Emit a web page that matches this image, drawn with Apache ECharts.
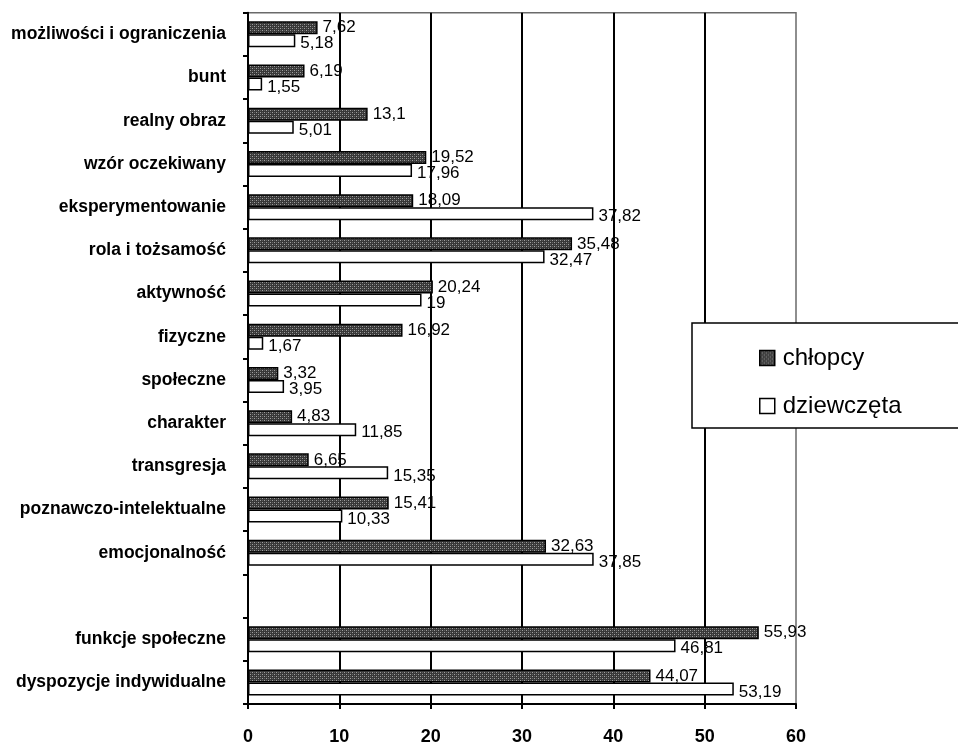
<!DOCTYPE html>
<html>
<head>
<meta charset="utf-8">
<script src="https://cdn.jsdelivr.net/npm/echarts@6/dist/echarts.min.js"></script>
<style>
  html, body { margin: 0; padding: 0; background: #fff; }
  #chart { width: 958px; height: 746px; }
</style>
</head>
<body>
<div id="chart"></div>
<script>
// Categories listed top to bottom; the empty entry leaves a gap row.
const categories = [
  'możliwości i ograniczenia',
  'bunt',
  'realny obraz',
  'wzór oczekiwany',
  'eksperymentowanie',
  'rola i tożsamość',
  'aktywność',
  'fizyczne',
  'społeczne',
  'charakter',
  'transgresja',
  'poznawczo-intelektualne',
  'emocjonalność',
  '',
  'funkcje społeczne',
  'dyspozycje indywidualne'
];
const seriesNames = ['chłopcy', 'dziewczęta'];
const boysValues = [7.62, 6.19, 13.1, 19.52, 18.09, 35.48, 20.24, 16.92, 3.32, 4.83, 6.65, 15.41, 32.63, null, 55.93, 44.07];
const girlsValues = [5.18, 1.55, 5.01, 17.96, 37.82, 32.47, 19, 1.67, 3.95, 11.85, 15.35, 10.33, 37.85, null, 46.81, 53.19];
const xTicks = { min: 0, max: 60, interval: 10 };

// Dotted dark-grey fill used for the boys' bars
function makeHatch() {
  const c = document.createElement('canvas');
  c.width = 4; c.height = 4;
  const g = c.getContext('2d');
  g.fillStyle = '#383838';
  g.fillRect(0, 0, 4, 4);
  g.fillStyle = '#a0a0a0';
  g.fillRect(0, 0, 1, 1);
  g.fillRect(2, 2, 1, 1);
  g.fillStyle = '#646464';
  g.fillRect(2, 0, 1, 1);
  g.fillRect(0, 2, 1, 1);
  return c;
}
const hatch = { image: makeHatch(), repeat: 'repeat' };

const fmt = p => (p.value == null ? '' : String(p.value).replace('.', ','));
const FONT = '"Liberation Sans", Arial, sans-serif';

const chart = echarts.init(document.getElementById('chart'), null, { renderer: 'canvas' });
chart.setOption({
  animation: false,
  backgroundColor: '#fff',
  textStyle: { fontFamily: FONT },
  grid: {
    left: 248, right: 162, top: 12.7, bottom: 39,
    show: true, borderColor: '#6a6a6a', borderWidth: 1.5, backgroundColor: 'transparent'
  },
  xAxis: {
    type: 'value',
    min: xTicks.min, max: xTicks.max, interval: xTicks.interval,
    axisLine: { show: true, lineStyle: { color: '#000', width: 2 } },
    axisTick: { show: true, length: 5, lineStyle: { color: '#000', width: 2 } },
    axisLabel: { margin: 24, color: '#000', fontWeight: 'bold', fontSize: 18, fontFamily: FONT },
    splitLine: { show: true, showMaxLine: false, lineStyle: { color: '#000', width: 2 } }
  },
  yAxis: {
    type: 'category',
    inverse: true,
    data: categories,
    axisLine: { show: true, lineStyle: { color: '#000', width: 2 } },
    axisTick: { show: true, length: 5, lineStyle: { color: '#000', width: 2 } },
    axisLabel: { margin: 22, color: '#000', fontWeight: 'bold', fontSize: 17.5, fontFamily: FONT },
    splitLine: { show: false }
  },
  legend: {
    data: seriesNames.map(n => ({ name: n, icon: 'rect' })),
    orient: 'vertical',
    left: 754, top: 341,
    itemWidth: 15, itemHeight: 15, itemGap: 24,
    z: 20,
    itemStyle: { borderColor: '#000', borderWidth: 1.5 },
    textStyle: { fontSize: 24, color: '#000', fontFamily: FONT, padding: [0, 0, 0, 3] }
  },
  graphic: [{
    type: 'rect', z: 10,
    shape: { x: 692, y: 323, width: 268, height: 105 },
    style: { fill: '#fff', stroke: '#000', lineWidth: 1.5 }
  }],
  series: [
    {
      name: seriesNames[0], type: 'bar', data: boysValues,
      barWidth: 13, barGap: '0%',
      itemStyle: { color: hatch, borderColor: '#000', borderWidth: 1.5 },
      label: { show: true, position: 'right', distance: 5, formatter: fmt,
               color: '#000', fontSize: 17, fontFamily: FONT }
    },
    {
      name: seriesNames[1], type: 'bar', data: girlsValues,
      barWidth: 13, barGap: '0%',
      itemStyle: { color: '#fff', borderColor: '#000', borderWidth: 1.5 },
      label: { show: true, position: 'right', distance: 5, offset: [0, 3], formatter: fmt,
               color: '#000', fontSize: 17, fontFamily: FONT }
    }
  ]
});
</script>
</body>
</html>
